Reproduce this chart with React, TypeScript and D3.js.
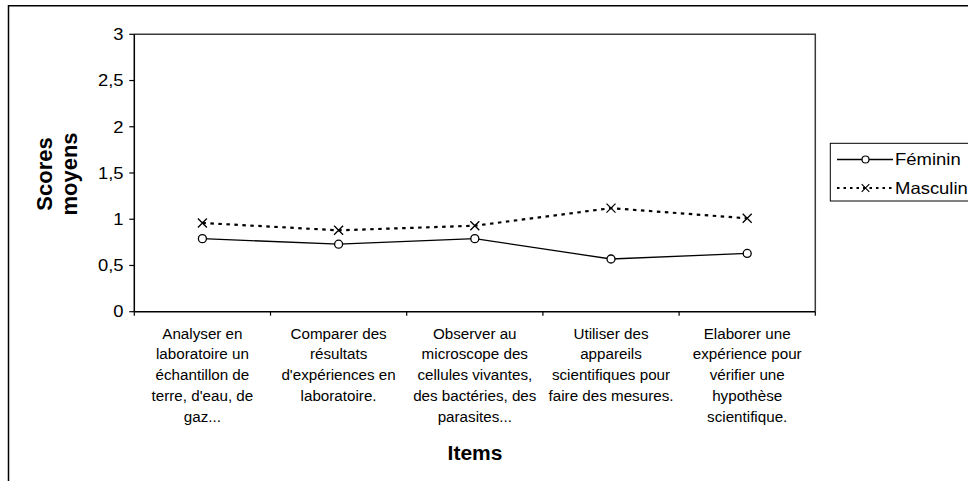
import React from "react";
import * as d3 from "d3";

const categories: string[][] = [
  ["Analyser en", "laboratoire un", "échantillon de", "terre, d'eau, de", "gaz..."],
  ["Comparer des", "résultats", "d'expériences en", "laboratoire."],
  ["Observer au", "microscope des", "cellules vivantes,", "des bactéries, des", "parasites..."],
  ["Utiliser des", "appareils", "scientifiques pour", "faire des mesures."],
  ["Elaborer une", "expérience pour", "vérifier une", "hypothèse", "scientifique."],
];
const feminin = [0.79, 0.73, 0.79, 0.57, 0.63];
const masculin = [0.96, 0.88, 0.93, 1.12, 1.01];
const yTicks = [0, 0.5, 1, 1.5, 2, 2.5, 3];
const seriesNames = ["Féminin", "Masculin"];

const W = 968;
const H = 481;
const FONT = "Liberation Sans, Arial, sans-serif";

export default function App() {
  const left = 134.3, right = 815.3, top = 34.3, bottom = 311.7;
  const x = d3.scaleBand<number>().domain(d3.range(categories.length)).range([left, right]).paddingInner(0).paddingOuter(0);
  const y = d3.scaleLinear().domain([0, 3]).range([bottom, top]);
  const cx = (i: number) => (x(i) as number) + x.bandwidth() / 2;
  const line = d3.line<number>().x((_, i) => cx(i)).y((d) => y(d));
  const fmt = (v: number) => String(v).replace(".", ",");

  const xMarker = (px: number, py: number, s = 4.5) =>
    `M${px - s},${py - s}L${px + s},${py + s}M${px - s},${py + s}L${px + s},${py - s}`;

  const legX = 830.3, legY = 143.3;
  const rows = [159.5, 188];

  return (
    <svg width={W} height={H} style={{ position: "absolute", left: 0, top: 0, background: "#fff" }} fontFamily={FONT}>
      <rect x={0} y={0} width={W} height={H} fill="#fff" />
      {/* outer chart frame */}
      <path d={`M8.5,${H + 2}V5.7H${W + 2}`} fill="none" stroke="#000" strokeWidth={1.5} />
      {/* plot area top/right border */}
      <path d={`M${left},${top}H${right}V${bottom}`} fill="none" stroke="#3a3a3a" strokeWidth={1.5} />
      {/* y axis */}
      <line x1={left} x2={left} y1={top} y2={bottom} stroke="#000" strokeWidth={1.5} />
      {yTicks.map((t) => (
        <g key={t}>
          <line x1={left - 5} x2={left} y1={y(t)} y2={y(t)} stroke="#000" strokeWidth={1.2} />
          <text transform={`translate(123.5,${y(t)}) scale(1.15,1)`} dy="0.36em" textAnchor="end" fontSize={16} fill="#000">
            {fmt(t)}
          </text>
        </g>
      ))}
      {/* x axis */}
      <line x1={left} x2={right} y1={bottom} y2={bottom} stroke="#000" strokeWidth={1.5} />
      {d3.range(categories.length + 1).map((i) => {
        const px = i < categories.length ? (x(i) as number) : right;
        return <line key={i} x1={px} x2={px} y1={bottom} y2={bottom + 4} stroke="#000" strokeWidth={1.2} />;
      })}
      {categories.map((lines, i) => (
        <text key={i} textAnchor="middle" fontSize={15.2} fill="#000">
          {lines.map((l, j) => (
            <tspan key={j} x={cx(i)} y={338.5 + j * 20.9}>
              {l}
            </tspan>
          ))}
        </text>
      ))}
      {/* axis titles */}
      <text x={475} y={460} textAnchor="middle" fontSize={21} fontWeight="bold" fill="#000">
        Items
      </text>
      <text transform={`translate(51.7,174) rotate(-90)`} textAnchor="middle" fontSize={22} fontWeight="bold" fill="#000">
        Scores
      </text>
      <text transform={`translate(77,174) rotate(-90)`} textAnchor="middle" fontSize={22} fontWeight="bold" fill="#000">
        moyens
      </text>
      {/* series */}
      <path d={line(masculin) as string} fill="none" stroke="#000" strokeWidth={2.2} strokeDasharray="3.5 4.5" />
      {masculin.map((v, i) => (
        <path key={i} d={xMarker(cx(i), y(v))} stroke="#000" strokeWidth={1.3} fill="none" />
      ))}
      <path d={line(feminin) as string} fill="none" stroke="#000" strokeWidth={1.3} />
      {feminin.map((v, i) => (
        <circle key={i} cx={cx(i)} cy={y(v)} r={4} fill="#fff" stroke="#000" strokeWidth={1.3} />
      ))}
      {/* legend */}
      <rect x={legX} y={legY} width={W} height={57.7} fill="#fff" stroke="#000" strokeWidth={1} />
      <line x1={837} x2={893} y1={rows[0]} y2={rows[0]} stroke="#000" strokeWidth={1.3} />
      <circle cx={865.5} cy={rows[0]} r={3.5} fill="#fff" stroke="#000" strokeWidth={1.2} />
      <line x1={837} x2={893} y1={rows[1]} y2={rows[1]} stroke="#000" strokeWidth={2} strokeDasharray="2.5 4" />
      <path d={xMarker(865.5, rows[1], 3.8)} stroke="#000" strokeWidth={1.2} fill="none" />
      {seriesNames.map((n, i) => (
        <text key={n} transform={`translate(895,${rows[i]}) scale(1.12,1)`} dy="0.36em" fontSize={16.5} fill="#000">
          {n}
        </text>
      ))}
    </svg>
  );
}
